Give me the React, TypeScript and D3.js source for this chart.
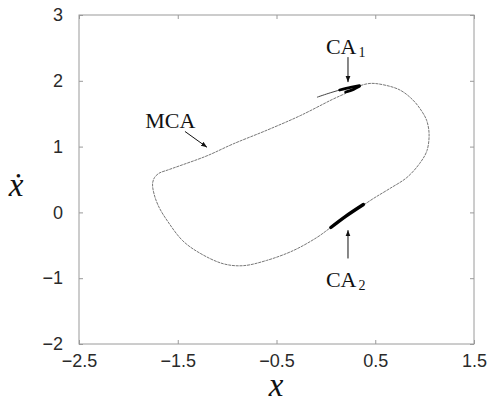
import React, { useEffect, useRef } from 'react';
import * as d3 from 'd3';

// axis ticks
const xTicks = [-2.5, -1.5, -0.5, 0.5, 1.5];
const xTickLabels = ['−2.5', '−1.5', '−0.5', '0.5', '1.5'];
const yTicks = [-2, -1, 0, 1, 2, 3];
const yTickLabels = ['−2', '−1', '0', '1', '2', '3'];

// main chaotic attractor (closed loop)
const mcaLoop: [number, number][] = [
  [0.447, 1.96], [0.58, 1.94], [0.75, 1.86], [0.88, 1.71], [0.97, 1.54],
  [1.02, 1.4], [1.045, 1.2], [1.024, 0.94], [0.95, 0.745], [0.82, 0.53],
  [0.65, 0.365], [0.48, 0.21], [0.35, 0.08], [0.2, -0.07], [0.04, -0.24],
  [-0.09, -0.38], [-0.33, -0.58], [-0.6, -0.73], [-0.84, -0.81], [-1.04, -0.78],
  [-1.275, -0.62], [-1.45, -0.43], [-1.6, -0.14], [-1.69, 0.08], [-1.74, 0.28],
  [-1.755, 0.44], [-1.735, 0.53], [-1.69, 0.595], [-1.6, 0.645], [-1.477, 0.71],
  [-1.204, 0.86], [-0.94, 1.04], [-0.596, 1.25], [-0.26, 1.47], [0.07, 1.72],
  [0.214, 1.82], [0.33, 1.915],
];

// outer branch running into CA1
const ca1Branch: [number, number][] = [
  [-0.09, 1.75], [0.05, 1.82], [0.19, 1.88], [0.33, 1.925],
];

// dense parts (coexisting attractors)
const ca1Upper: [number, number][] = [[0.14, 1.86], [0.25, 1.9], [0.34, 1.925]];
const ca1Lower: [number, number][] = [[0.2, 1.83], [0.28, 1.87], [0.34, 1.915]];
const ca2Segment: [number, number][] = [[0.05, -0.23], [0.2, -0.06], [0.38, 0.12]];

// annotation arrows [from, to]
const arrows: [[number, number], [number, number]][] = [
  [[0.224, 2.36], [0.224, 1.98]],
  [[0.224, -0.7], [0.224, -0.27]],
  [[-1.427, 1.23], [-1.204, 0.99]],
];

// annotation labels: text, subscript, x, y (baseline)
const labels: { text: string; sub: string; x: number; y: number }[] = [
  { text: 'CA', sub: '1', x: 0.0, y: 2.41 },
  { text: 'CA', sub: '2', x: 0.0, y: -1.14 },
  { text: 'MCA', sub: '', x: -1.83, y: 1.29 },
];

export default function App() {
  const svgRef = useRef<SVGSVGElement | null>(null);

  useEffect(() => {
    document.body.style.margin = '0';
    const width = 489;
    const height = 404;
    const margin = { top: 15, right: 15, bottom: 60, left: 79 };

    const svg = d3.select(svgRef.current);
    svg.selectAll('*').remove();
    svg.attr('width', width).attr('height', height);

    svg.append('rect').attr('width', width).attr('height', height).attr('fill', '#fff');

    const innerW = width - margin.left - margin.right;
    const innerH = height - margin.top - margin.bottom;

    const g = svg.append('g').attr('transform', `translate(${margin.left},${margin.top})`);

    const x = d3.scaleLinear().domain([-2.5, 1.5]).range([0, innerW]);
    const y = d3.scaleLinear().domain([-2, 3]).range([innerH, 0]);

    const sans = "'Liberation Sans', Arial, Helvetica, sans-serif";
    const serif = "'Liberation Serif', 'Times New Roman', serif";

    // frame
    g.append('rect')
      .attr('width', innerW)
      .attr('height', innerH)
      .attr('fill', 'none')
      .attr('stroke', '#9a9a9a')
      .attr('stroke-width', 1);

    const styleAxis = (sel: d3.Selection<SVGGElement, unknown, null, undefined>) => {
      sel.select('.domain').remove();
      sel.selectAll('line').attr('stroke', '#9a9a9a');
      sel.selectAll('text').attr('font-family', sans).attr('font-size', 18).attr('fill', '#2a2a2a');
    };

    g.append('g')
      .attr('transform', `translate(0,${innerH})`)
      .call(
        d3.axisBottom(x).tickValues(xTicks).tickSizeInner(-4).tickSizeOuter(0).tickPadding(10)
          .tickFormat((_, i) => xTickLabels[i])
      )
      .call(styleAxis);

    g.append('g')
      .call(
        d3.axisTop(x).tickValues(xTicks).tickSizeInner(-4).tickSizeOuter(0).tickFormat(() => '')
      )
      .call(styleAxis);

    g.append('g')
      .call(
        d3.axisLeft(y).tickValues(yTicks).tickSizeInner(-4).tickSizeOuter(0).tickPadding(16)
          .tickFormat((_, i) => yTickLabels[i])
      )
      .call(styleAxis);

    g.append('g')
      .attr('transform', `translate(${innerW},0)`)
      .call(
        d3.axisRight(y).tickValues(yTicks).tickSizeInner(-4).tickSizeOuter(0).tickFormat(() => '')
      )
      .call(styleAxis);

    // curves
    const loopLine = d3
      .line<[number, number]>()
      .x((d) => x(d[0]))
      .y((d) => y(d[1]))
      .curve(d3.curveCatmullRomClosed.alpha(0.5));

    const openLine = d3
      .line<[number, number]>()
      .x((d) => x(d[0]))
      .y((d) => y(d[1]))
      .curve(d3.curveCatmullRom.alpha(0.5));

    g.append('path')
      .attr('d', loopLine(mcaLoop))
      .attr('fill', 'none')
      .attr('stroke', '#777')
      .attr('stroke-width', 1)
      .attr('stroke-dasharray', '3 0.8');

    g.append('path')
      .attr('d', openLine(ca1Branch))
      .attr('fill', 'none')
      .attr('stroke', '#444')
      .attr('stroke-width', 1);

    [ca1Upper, ca1Lower].forEach((seg) => {
      g.append('path')
        .attr('d', openLine(seg))
        .attr('fill', 'none')
        .attr('stroke', '#000')
        .attr('stroke-width', 2.8)
        .attr('stroke-linecap', 'round');
    });

    g.append('path')
      .attr('d', openLine(ca2Segment))
      .attr('fill', 'none')
      .attr('stroke', '#000')
      .attr('stroke-width', 3.4)
      .attr('stroke-linecap', 'round');

    // arrows
    svg.append('defs')
      .append('marker')
      .attr('id', 'ah')
      .attr('viewBox', '0 0 10 10')
      .attr('refX', 10)
      .attr('refY', 5)
      .attr('markerWidth', 6)
      .attr('markerHeight', 6)
      .attr('markerUnits', 'userSpaceOnUse')
      .attr('orient', 'auto')
      .append('path')
      .attr('d', 'M0,1 L10,5 L0,9 Z')
      .attr('fill', '#111');

    arrows.forEach(([a, b]) => {
      g.append('line')
        .attr('x1', x(a[0]))
        .attr('y1', y(a[1]))
        .attr('x2', x(b[0]))
        .attr('y2', y(b[1]))
        .attr('stroke', '#111')
        .attr('stroke-width', 1)
        .attr('marker-end', 'url(#ah)');
    });

    // labels
    labels.forEach((l) => {
      const t = g.append('text')
        .attr('x', x(l.x))
        .attr('y', y(l.y))
        .attr('font-family', serif)
        .attr('font-size', 22)
        .attr('fill', '#111')
        .text(l.text);
      if (l.sub) {
        t.append('tspan')
          .attr('font-size', 14)
          .attr('dx', 2)
          .attr('dy', 3)
          .text(l.sub);
      }
    });

    // axis titles
    svg.append('text')
      .attr('x', 276)
      .attr('y', 396)
      .attr('text-anchor', 'middle')
      .attr('font-family', serif)
      .attr('font-style', 'italic')
      .attr('font-size', 33)
      .attr('fill', '#111')
      .text('x');

    svg.append('text')
      .attr('x', 16)
      .attr('y', 196)
      .attr('text-anchor', 'middle')
      .attr('font-family', serif)
      .attr('font-style', 'italic')
      .attr('font-size', 33)
      .attr('fill', '#111')
      .text('ẋ');
  }, []);

  return (
    <div>
      <svg ref={svgRef} />
    </div>
  );
}
